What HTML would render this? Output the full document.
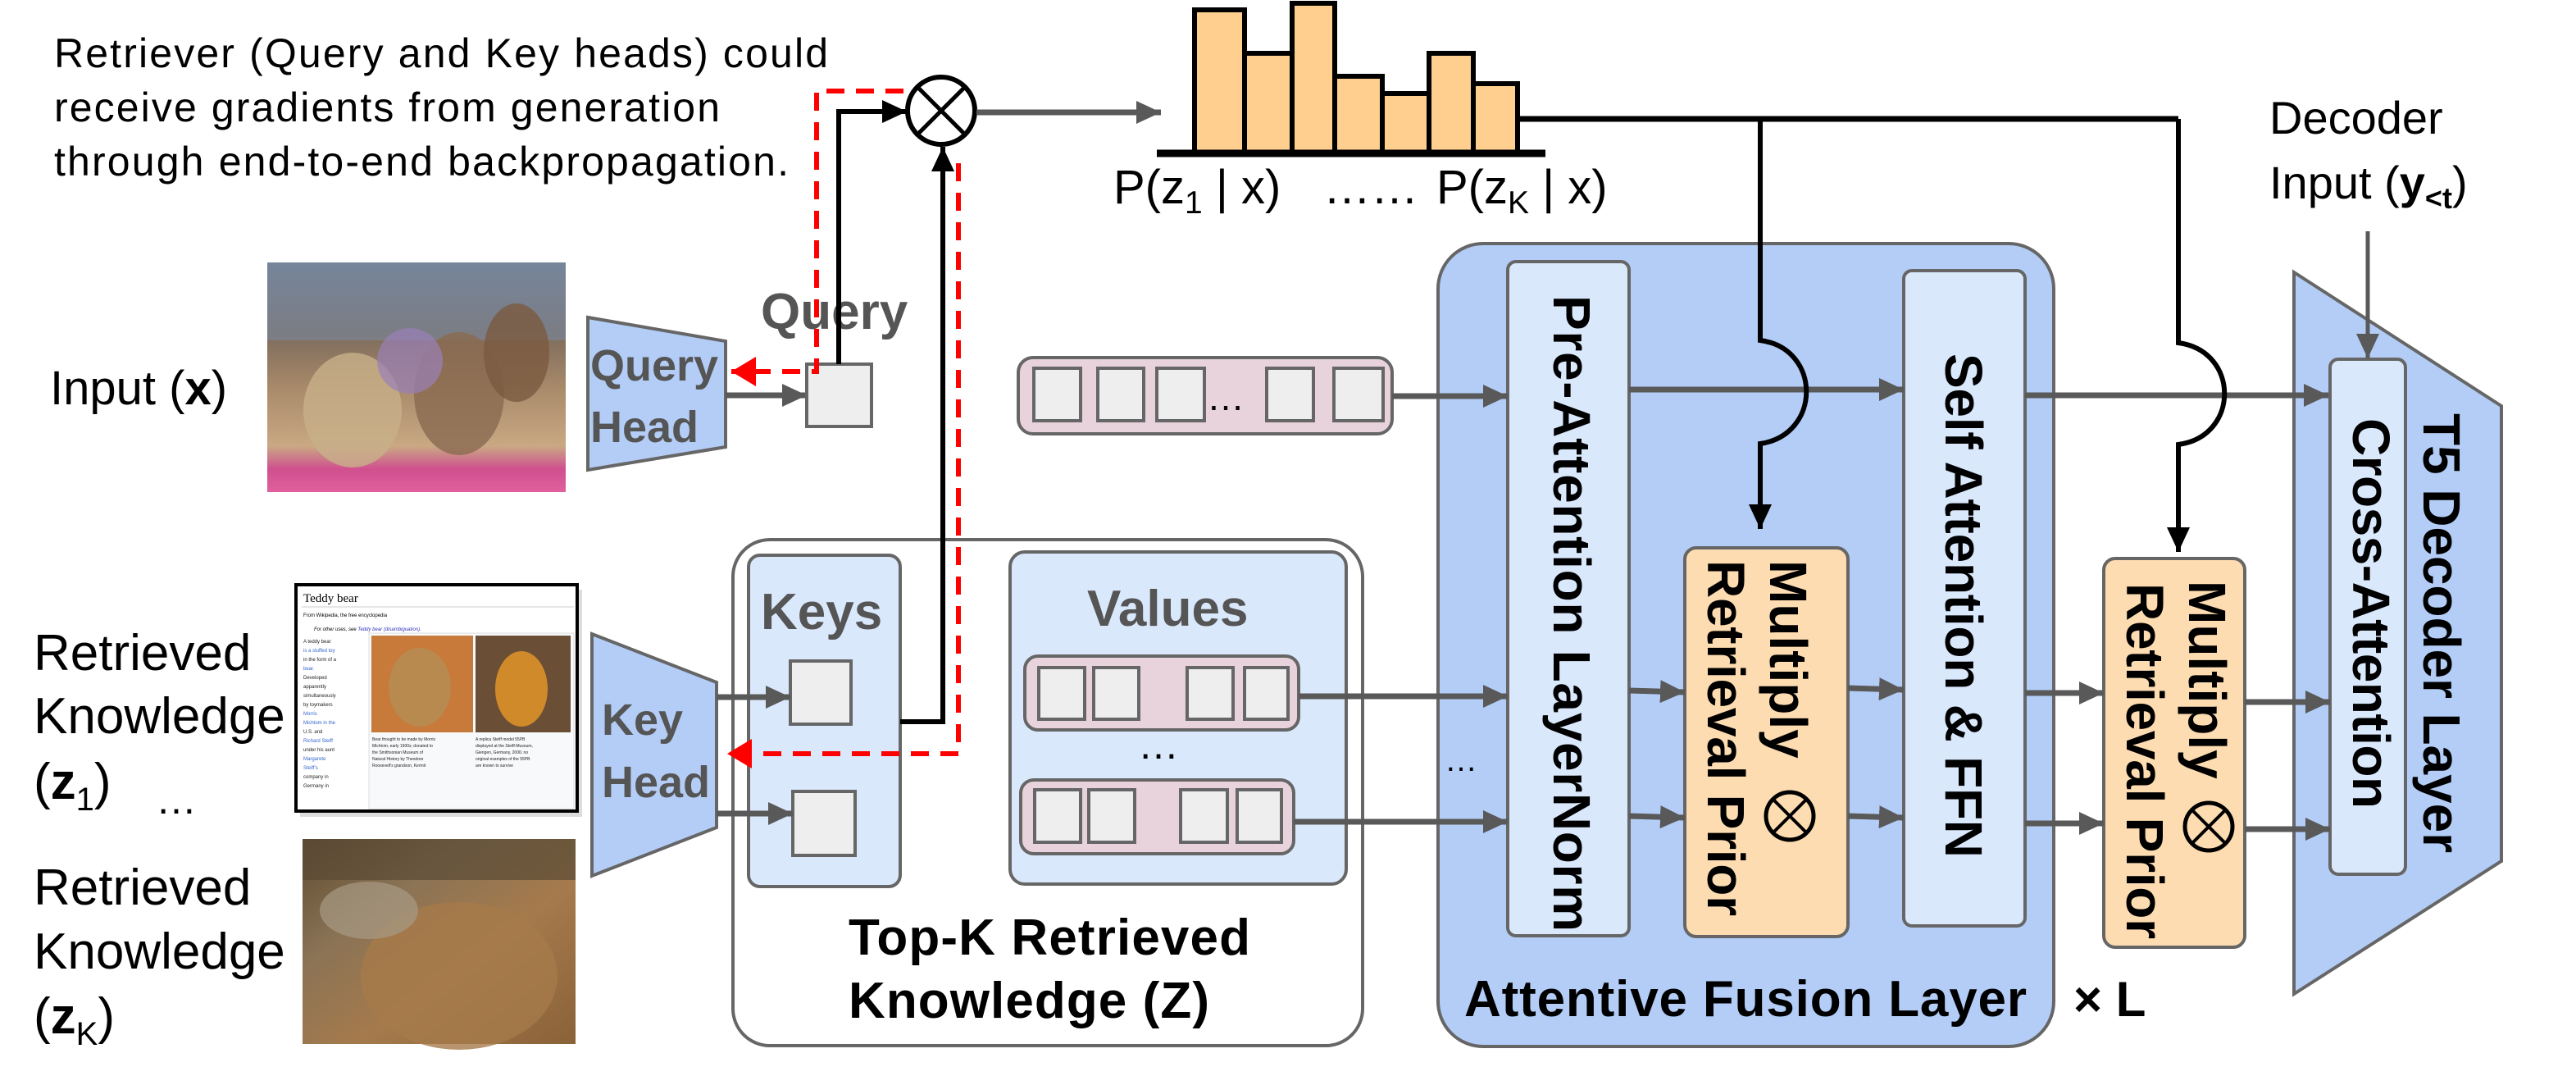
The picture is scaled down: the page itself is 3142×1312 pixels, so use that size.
<!DOCTYPE html>
<html><head><meta charset="utf-8"><style>
html,body{margin:0;padding:0;background:#fff;}
svg{display:block;}
text{font-family:"Liberation Sans",Arial,sans-serif;}
</style></head><body>
<svg width="3142" height="1312" viewBox="0 0 3142 1312" xmlns="http://www.w3.org/2000/svg">
<defs>
<marker id="ag" markerUnits="userSpaceOnUse" markerWidth="34" markerHeight="34" refX="30" refY="17" orient="auto"><path d="M0,3 L30,17 L0,31 Z" fill="#595959"/></marker>
<marker id="ab" markerUnits="userSpaceOnUse" markerWidth="34" markerHeight="34" refX="30" refY="17" orient="auto"><path d="M0,3 L30,17 L0,31 Z" fill="#000"/></marker>
<marker id="ar" markerUnits="userSpaceOnUse" markerWidth="34" markerHeight="40" refX="30" refY="20" orient="auto"><path d="M0,2 L30,20 L0,38 Z" fill="#f00"/></marker>
<linearGradient id="gteddy" x1="0" y1="0" x2="0" y2="1">
<stop offset="0" stop-color="#6e7f95"/><stop offset="0.3" stop-color="#7b6a5c"/><stop offset="0.55" stop-color="#a98a6a"/><stop offset="0.8" stop-color="#c9a883"/><stop offset="0.9" stop-color="#d0508f"/><stop offset="1" stop-color="#e0609d"/></linearGradient>
<linearGradient id="gbear" x1="0" y1="0" x2="1" y2="1">
<stop offset="0" stop-color="#5e4a30"/><stop offset="0.3" stop-color="#8a7355"/><stop offset="0.6" stop-color="#a57a4c"/><stop offset="1" stop-color="#8a6238"/></linearGradient>
</defs>

<text x="66" y="82" font-size="50" textLength="944">Retriever (Query and Key heads) could</text>
<text x="66" y="148" font-size="50" textLength="812">receive gradients from generation</text>
<text x="66" y="214" font-size="50" textLength="896">through end-to-end backpropagation.</text>

<rect x="326" y="320" width="364" height="280" fill="url(#gteddy)"/>
<rect x="326" y="320" width="364" height="95" fill="#7c8ba0" opacity="0.6"/>
<ellipse cx="430" cy="500" rx="60" ry="70" fill="#c8b08a" opacity="0.8"/>
<ellipse cx="560" cy="480" rx="55" ry="75" fill="#8a6a50" opacity="0.8"/>
<ellipse cx="630" cy="430" rx="40" ry="60" fill="#7a5a40" opacity="0.8"/>
<ellipse cx="500" cy="440" rx="40" ry="40" fill="#9a80b8" opacity="0.7"/>
<text x="61" y="493" font-size="58">Input (<tspan font-weight="bold">x</tspan>)</text>

<polygon points="717,387 885,416 885,545 717,573" fill="#b3cdf7" stroke="#666" stroke-width="4"/>
<text x="720" y="464" font-size="54" font-weight="bold" fill="#555">Query</text>
<text x="720" y="539" font-size="54" font-weight="bold" fill="#555">Head</text>
<text x="928" y="401" font-size="62" font-weight="bold" fill="#555">Query</text>
<line x1="885" y1="482" x2="984" y2="482" stroke="#595959" stroke-width="7" marker-end="url(#ag)"/>
<rect x="984" y="444" width="79" height="76" fill="#eee" stroke="#666" stroke-width="4"/>

<text x="41" y="817" font-size="62">Retrieved</text>
<text x="41" y="894" font-size="62">Knowledge</text>
<text x="41" y="974" font-size="62">(<tspan font-weight="bold">z</tspan><tspan font-size="40" dy="14">1</tspan><tspan dy="-14">)</tspan></text>
<text x="190" y="992" font-size="50">…</text>
<text x="41" y="1103" font-size="62">Retrieved</text>
<text x="41" y="1181" font-size="62">Knowledge</text>
<text x="41" y="1260" font-size="62">(<tspan font-weight="bold">z</tspan><tspan font-size="40" dy="14">K</tspan><tspan dy="-14">)</tspan></text>

<rect x="366" y="719" width="344" height="277" fill="#bbb" opacity="0.5"/>
<rect x="361" y="713" width="343" height="276" fill="#fff" stroke="#000" stroke-width="4"/>
<text x="370" y="734" font-size="15" style="font-family:'Liberation Serif',serif">Teddy bear</text>
<line x1="368" y1="740" x2="700" y2="740" stroke="#ccc" stroke-width="1"/>
<text x="370" y="752" font-size="6">From Wikipedia, the free encyclopedia</text>
<text x="383" y="769" font-size="6" font-style="italic">For other uses, see <tspan fill="#33b">Teddy bear (disambiguation).</tspan></text>
<text font-size="6" fill="#222"><tspan x="370" y="784">A teddy bear</tspan><tspan x="370" y="795" fill="#36c">is a stuffed toy</tspan><tspan x="370" y="806">in the form of a</tspan><tspan x="370" y="817" fill="#36c">bear.</tspan><tspan x="370" y="828">Developed</tspan><tspan x="370" y="839">apparently</tspan><tspan x="370" y="850">simultaneously</tspan><tspan x="370" y="861">by toymakers</tspan><tspan x="370" y="872" fill="#36c">Morris</tspan><tspan x="370" y="883" fill="#36c">Michtom in the</tspan><tspan x="370" y="894">U.S. and</tspan><tspan x="370" y="905" fill="#36c">Richard Steiff</tspan><tspan x="370" y="916">under his aunt</tspan><tspan x="370" y="927" fill="#36c">Margarete</tspan><tspan x="370" y="938" fill="#36c">Steiff's</tspan><tspan x="370" y="949">company in</tspan><tspan x="370" y="960">Germany in</tspan></text>
<rect x="450" y="772" width="250" height="214" fill="#f8f9fa" stroke="#ddd"/>
<rect x="453" y="775" width="124" height="118" fill="#c77a3a"/>
<ellipse cx="512" cy="838" rx="38" ry="48" fill="#b88a50"/>
<rect x="580" y="775" width="116" height="118" fill="#6a4e36"/>
<ellipse cx="636" cy="840" rx="32" ry="46" fill="#d08a2a"/>
<text font-size="5" fill="#222"><tspan x="454" y="903">Bear thought to be made by Morris</tspan><tspan x="454" y="911">Michtom, early 1900s; donated to</tspan><tspan x="454" y="919">the Smithsonian Museum of</tspan><tspan x="454" y="927">Natural History by Theodore</tspan><tspan x="454" y="935">Roosevelt's grandson, Kermit</tspan><tspan x="580" y="903">A replica Steiff model 55PB</tspan><tspan x="580" y="911">displayed at the Steiff-Museum,</tspan><tspan x="580" y="919">Giengen, Germany, 2006; no</tspan><tspan x="580" y="927">original examples of the 55PB</tspan><tspan x="580" y="935">are known to survive</tspan></text>

<rect x="369" y="1023" width="333" height="250" fill="url(#gbear)"/>
<rect x="369" y="1023" width="333" height="50" fill="#5a4a35" opacity="0.7"/>
<ellipse cx="560" cy="1190" rx="120" ry="90" fill="#a67a4a" opacity="0.8"/>
<ellipse cx="450" cy="1110" rx="60" ry="35" fill="#a89a85" opacity="0.7"/>

<polygon points="722,773 874,832 874,1009 722,1068" fill="#b3cdf7" stroke="#666" stroke-width="4"/>
<text x="734" y="896" font-size="54" font-weight="bold" fill="#555">Key</text>
<text x="734" y="972" font-size="54" font-weight="bold" fill="#555">Head</text>

<rect x="894" y="658" width="768" height="617" rx="45" fill="#fff" stroke="#666" stroke-width="4"/>
<rect x="913" y="677" width="185" height="404" rx="14" fill="#dae8fc" stroke="#666" stroke-width="4"/>
<text x="928" y="767" font-size="62" font-weight="bold" fill="#555">Keys</text>
<rect x="964" y="806" width="74" height="77" fill="#eee" stroke="#666" stroke-width="4"/>
<rect x="967" y="965" width="76" height="78" fill="#eee" stroke="#666" stroke-width="4"/>
<line x1="874" y1="850" x2="964" y2="850" stroke="#595959" stroke-width="7" marker-end="url(#ag)"/>
<line x1="874" y1="992" x2="967" y2="992" stroke="#595959" stroke-width="7" marker-end="url(#ag)"/>

<rect x="1232" y="673" width="410" height="405" rx="18" fill="#dae8fc" stroke="#666" stroke-width="4"/>
<text x="1326" y="763" font-size="62" font-weight="bold" fill="#555">Values</text>
<rect x="1250" y="800" width="334" height="90" rx="16" fill="#e8d2dc" stroke="#666" stroke-width="4"/>
<rect x="1267" y="814" width="56" height="63" fill="#eee" stroke="#666" stroke-width="4"/>
<rect x="1334" y="814" width="55" height="63" fill="#eee" stroke="#666" stroke-width="4"/>
<rect x="1448" y="814" width="56" height="63" fill="#eee" stroke="#666" stroke-width="4"/>
<rect x="1518" y="814" width="53" height="63" fill="#eee" stroke="#666" stroke-width="4"/>
<text x="1388" y="925" font-size="50">…</text>
<rect x="1245" y="951" width="333" height="90" rx="16" fill="#e8d2dc" stroke="#666" stroke-width="4"/>
<rect x="1262" y="963" width="56" height="64" fill="#eee" stroke="#666" stroke-width="4"/>
<rect x="1328" y="963" width="56" height="64" fill="#eee" stroke="#666" stroke-width="4"/>
<rect x="1440" y="963" width="57" height="64" fill="#eee" stroke="#666" stroke-width="4"/>
<rect x="1509" y="963" width="54" height="64" fill="#eee" stroke="#666" stroke-width="4"/>
<text x="1035" y="1164" font-size="62" font-weight="bold" textLength="490">Top-K Retrieved</text>
<text x="1035" y="1241" font-size="62" font-weight="bold" textLength="440">Knowledge (Z)</text>

<path d="M1102,111 H996 V453 H892" fill="none" stroke="#f00" stroke-width="6" stroke-dasharray="22 14" marker-end="url(#ar)"/>
<path d="M1169,199 V919 H887" fill="none" stroke="#f00" stroke-width="6" stroke-dasharray="22 14" marker-end="url(#ar)"/>
<path d="M1023,444 V136 H1106" fill="none" stroke="#000" stroke-width="6" marker-end="url(#ab)"/>
<path d="M1098,880 H1150 V179" fill="none" stroke="#000" stroke-width="6" marker-end="url(#ab)"/>
<circle cx="1148" cy="135" r="41" fill="#fff" stroke="#000" stroke-width="6"/>
<path d="M1119,106 L1177,164 M1177,106 L1119,164" stroke="#000" stroke-width="5"/>
<line x1="1191" y1="137" x2="1416" y2="137" stroke="#595959" stroke-width="7" marker-end="url(#ag)"/>

<g fill="#ffcf8f" stroke="#000" stroke-width="6">
<rect x="1457" y="12" width="61" height="175"/>
<rect x="1518" y="65" width="58" height="122"/>
<rect x="1576" y="4" width="52" height="183"/>
<rect x="1628" y="93" width="58" height="94"/>
<rect x="1686" y="114" width="57" height="73"/>
<rect x="1743" y="65" width="54" height="122"/>
<rect x="1797" y="102" width="54" height="85"/>
</g>
<line x1="1411" y1="187" x2="1885" y2="187" stroke="#000" stroke-width="9"/>
<text x="1358" y="248" font-size="58">P(z<tspan font-size="39" dy="12">1</tspan><tspan dy="-12"> | x)</tspan></text>
<text x="1614" y="248" font-size="58">……</text>
<text x="1752" y="248" font-size="58">P(z<tspan font-size="39" dy="12">K</tspan><tspan dy="-12"> | x)</tspan></text>

<text x="2768" y="163" font-size="56">Decoder</text>
<text x="2768" y="242" font-size="56">Input (<tspan font-weight="bold">y</tspan><tspan font-size="36" font-weight="bold" dy="12">&lt;t</tspan><tspan dy="-12">)</tspan></text>

<rect x="1242" y="436" width="456" height="93" rx="18" fill="#e8d2dc" stroke="#666" stroke-width="4"/>
<rect x="1261" y="449" width="57" height="64" fill="#eee" stroke="#666" stroke-width="4"/>
<rect x="1339" y="449" width="56" height="64" fill="#eee" stroke="#666" stroke-width="4"/>
<rect x="1411" y="449" width="58" height="64" fill="#eee" stroke="#666" stroke-width="4"/>
<text x="1472" y="500" font-size="46">…</text>
<rect x="1545" y="449" width="57" height="64" fill="#eee" stroke="#666" stroke-width="4"/>
<rect x="1627" y="449" width="60" height="64" fill="#eee" stroke="#666" stroke-width="4"/>

<rect x="1754" y="297" width="751" height="979" rx="55" fill="#b3cdf7" stroke="#666" stroke-width="4"/>
<rect x="1839" y="319" width="148" height="822" rx="10" fill="#dae8fc" stroke="#666" stroke-width="4"/>
<rect x="2322" y="330" width="148" height="799" rx="10" fill="#dae8fc" stroke="#666" stroke-width="4"/>
<rect x="2055" y="668" width="199" height="474" rx="14" fill="#fddcb1" stroke="#666" stroke-width="4"/>
<text transform="translate(1895,360) rotate(90)" font-size="64" font-weight="bold" textLength="776">Pre-Attention  LayerNorm</text>
<text transform="translate(2373,431) rotate(90)" font-size="64" font-weight="bold" textLength="615">Self Attention &amp; FFN</text>
<text transform="translate(2159,683) rotate(90)" font-size="64" font-weight="bold">Multiply</text>
<text transform="translate(2083,683) rotate(90)" font-size="64" font-weight="bold" textLength="434">Retrieval Prior</text>
<circle cx="2183" cy="995" r="29" fill="none" stroke="#000" stroke-width="5"/>
<path d="M2163,975 L2203,1015 M2203,975 L2163,1015" stroke="#000" stroke-width="4"/>
<text x="1786" y="1239" font-size="62" font-weight="bold" textLength="686">Attentive Fusion Layer</text>
<text x="2529" y="1239" font-size="60" font-weight="bold">× L</text>
<text x="1762" y="940" font-size="40">…</text>

<rect x="2566" y="681" width="172" height="474" rx="14" fill="#fddcb1" stroke="#666" stroke-width="4"/>
<text transform="translate(2670,708) rotate(90)" font-size="64" font-weight="bold">Multiply</text>
<text transform="translate(2594,711) rotate(90)" font-size="64" font-weight="bold" textLength="434">Retrieval Prior</text>
<circle cx="2694" cy="1008" r="29" fill="none" stroke="#000" stroke-width="5"/>
<path d="M2674,988 L2714,1028 M2714,988 L2674,1028" stroke="#000" stroke-width="4"/>

<polygon points="2798,332 3051,495 3051,1050 2798,1212" fill="#b3cdf7" stroke="#666" stroke-width="4"/>
<rect x="2842" y="438" width="92" height="628" rx="10" fill="#dae8fc" stroke="#666" stroke-width="4"/>
<text transform="translate(2870,510) rotate(90)" font-size="64" font-weight="bold" textLength="476">Cross-Attention</text>
<text transform="translate(2956,504) rotate(90)" font-size="64" font-weight="bold" textLength="536">T5 Decoder Layer</text>
<line x1="2888" y1="282" x2="2888" y2="437" stroke="#595959" stroke-width="5" marker-end="url(#ag)"/>

<g stroke="#595959" stroke-width="7" marker-end="url(#ag)">
<line x1="1698" y1="483" x2="1839" y2="483"/>
<line x1="1987" y1="475" x2="2322" y2="475"/>
<line x1="2470" y1="482" x2="2840" y2="482"/>
<line x1="1584" y1="849" x2="1839" y2="849"/>
<line x1="1578" y1="1002" x2="1839" y2="1002"/>
<line x1="1987" y1="842" x2="2055" y2="844"/>
<line x1="1987" y1="995" x2="2055" y2="997"/>
<line x1="2254" y1="839" x2="2322" y2="841"/>
<line x1="2254" y1="995" x2="2322" y2="997"/>
<line x1="2470" y1="845" x2="2566" y2="845"/>
<line x1="2470" y1="1004" x2="2566" y2="1004"/>
<line x1="2738" y1="856" x2="2842" y2="856"/>
<line x1="2738" y1="1011" x2="2842" y2="1011"/>
</g>

<path d="M1851,145 H2657" fill="none" stroke="#000" stroke-width="7"/>
<path d="M2147,145 V415 C2222,425 2222,530 2147,541 V645" fill="none" stroke="#000" stroke-width="6" marker-end="url(#ab)"/>
<path d="M2657,145 V418 C2732,428 2732,532 2657,542 V673" fill="none" stroke="#000" stroke-width="6" marker-end="url(#ab)"/>
</svg>
</body></html>
